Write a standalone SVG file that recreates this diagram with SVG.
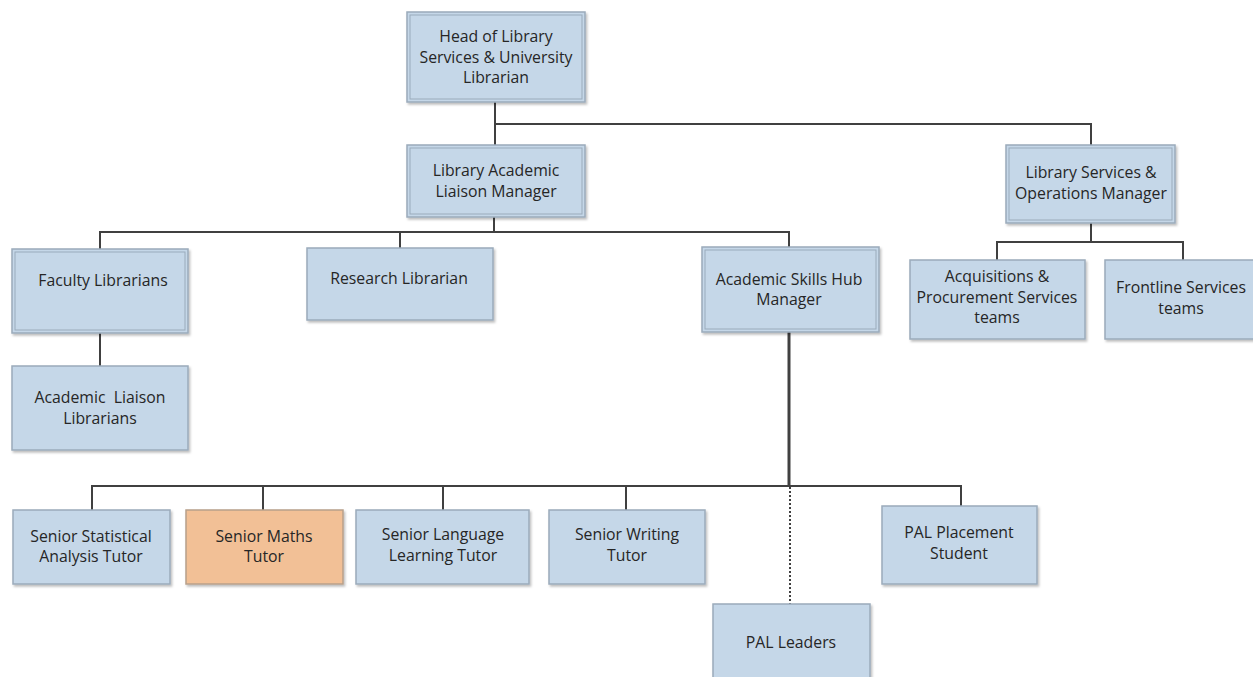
<svg xmlns="http://www.w3.org/2000/svg" width="1253" height="677" viewBox="0 0 1253 677">
<style>
.box{fill:#c5d7e8;stroke:#9aabbb;stroke-width:1.5;filter:url(#sh)}
.orange{fill:#f2c096;stroke:#b8a08a}
.inner{fill:none;stroke:#9aabbb;stroke-width:1}
text{font-family:"Open Sans",Lato,"Liberation Sans",sans-serif;font-size:15.8px;fill:#262626;text-anchor:middle}
.ln{fill:none;stroke:#404040;stroke-width:2}
.thick{stroke-width:3}
.dot{stroke-dasharray:2 2}
</style>
<defs>
<filter id="sh" x="-10%" y="-10%" width="130%" height="130%">
<feDropShadow dx="1.5" dy="2" stdDeviation="1" flood-color="#000" flood-opacity="0.25"/>
</filter>
</defs>
<rect width="1253" height="677" fill="#fff"/>
<g id="connectors">
<path class="ln" d="M495 102V124H1091V145"/>
<path class="ln" d="M495 124V145"/>
<path class="ln" d="M494 217V231"/>
<path class="ln" d="M100 249V232H789V247"/>
<path class="ln" d="M400 232V248"/>
<path class="ln" d="M100 333V366"/>
<path class="ln thick" d="M789 332V486"/>
<path class="ln" d="M92 510V486H961V506"/>
<path class="ln" d="M263 486V510"/>
<path class="ln" d="M443 486V510"/>
<path class="ln" d="M626 486V510"/>
<path class="ln dot" d="M790 487V604"/>
<path class="ln" d="M1091 223V242"/>
<path class="ln" d="M997 260V242H1183V260"/>
</g>
<g id="head">
<rect class="box" x="407" y="12" width="178" height="90"/>
<rect class="inner" x="410" y="15" width="172" height="84"/>
<text x="496" y="42">Head of Library</text>
<text x="496" y="63">Services &amp; University</text>
<text x="496" y="83">Librarian</text>
</g>
<g id="lalm">
<rect class="box" x="407" y="145" width="178" height="72"/>
<rect class="inner" x="410" y="148" width="172" height="66"/>
<text x="496" y="176">Library Academic</text>
<text x="496" y="197">Liaison Manager</text>
</g>
<g id="lsom">
<rect class="box" x="1006" y="145" width="169" height="78"/>
<rect class="inner" x="1009" y="148" width="163" height="72"/>
<text x="1091" y="178">Library Services &amp;</text>
<text x="1091" y="199">Operations Manager</text>
</g>
<g id="faculty">
<rect class="box" x="12" y="249" width="176" height="84"/>
<rect class="inner" x="15" y="252" width="170" height="78"/>
<text x="103" y="286">Faculty Librarians</text>
</g>
<g id="research">
<rect class="box" x="307" y="248" width="186" height="72"/>
<text x="399" y="284">Research Librarian</text>
</g>
<g id="hub">
<rect class="box" x="702" y="247" width="177" height="85"/>
<rect class="inner" x="705" y="250" width="171" height="79"/>
<text x="789" y="285">Academic Skills Hub</text>
<text x="789" y="305">Manager</text>
</g>
<g id="liaison">
<rect class="box" x="12" y="366" width="176" height="84"/>
<text x="100" y="403" xml:space="preserve">Academic  Liaison</text>
<text x="100" y="424">Librarians</text>
</g>
<g id="acq">
<rect class="box" x="910" y="260" width="175" height="79"/>
<text x="997" y="282">Acquisitions &amp;</text>
<text x="997" y="303">Procurement Services</text>
<text x="997" y="323">teams</text>
</g>
<g id="frontline">
<rect class="box" x="1105" y="260" width="152" height="79"/>
<text x="1181" y="293">Frontline Services</text>
<text x="1181" y="314">teams</text>
</g>
<g id="stat">
<rect class="box" x="13" y="510" width="157" height="74"/>
<text x="91" y="542">Senior Statistical</text>
<text x="91" y="562">Analysis Tutor</text>
</g>
<g id="maths">
<rect class="box orange" x="186" y="510" width="157" height="74"/>
<text x="264" y="542">Senior Maths</text>
<text x="264" y="562">Tutor</text>
</g>
<g id="language">
<rect class="box" x="356" y="510" width="173" height="74"/>
<text x="443" y="540">Senior Language</text>
<text x="443" y="561">Learning Tutor</text>
</g>
<g id="writing">
<rect class="box" x="549" y="510" width="156" height="74"/>
<text x="627" y="540">Senior Writing</text>
<text x="627" y="561">Tutor</text>
</g>
<g id="placement">
<rect class="box" x="882" y="506" width="155" height="78"/>
<text x="959" y="538">PAL Placement</text>
<text x="959" y="559">Student</text>
</g>
<g id="leaders">
<rect class="box" x="713" y="604" width="157" height="80"/>
<text x="791" y="648">PAL Leaders</text>
</g>
</svg>
